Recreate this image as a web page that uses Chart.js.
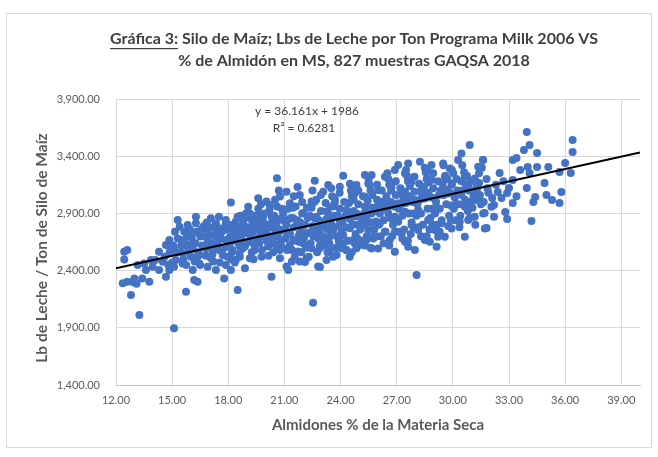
<!DOCTYPE html>
<html lang="es">
<head>
<meta charset="UTF-8">
<title>Gráfica 3: Silo de Maíz</title>
<script src="https://cdn.jsdelivr.net/npm/chart.js"></script>
<style>
  html, body { margin: 0; padding: 0; background: #fff; }
  canvas { display: block; }
</style>
</head>
<body>
<canvas id="grafica" width="658" height="457"></canvas>
<script>
// textos
const tituloSub = 'Gráfica 3:';
const tituloResto = ' Silo de Maíz; Lbs de Leche por Ton Programa Milk 2006 VS';
const tituloLinea2 = '% de Almidón en MS, 827 muestras GAQSA 2018';
const ecuacion = 'y = 36.161x + 1986';
const r2Texto = 'R² = 0.6281';
const tituloX = 'Almidones % de la Materia Seca';
const tituloY = 'Lb de Leche / Ton de Silo de Maíz';

// ejes
const xTicks = [12, 15, 18, 21, 24, 27, 30, 33, 36, 39];
const yTicks = [1400, 1900, 2400, 2900, 3400, 3900];

// linea de tendencia (extremos)
const tendencia = [[12, 2420], [40, 3432]];

// muestras: [almidon %, lb leche / ton]
const muestras = [
  // cola izquierda
  [12.44,2565],[12.44,2498],[12.6,2580],[12.36,2289],[12.6,2303],[12.98,2332],[12.8,2187],[13.25,2012],
  [15.1,1895],[13.78,2303],[13.16,2449],[13.6,2405],[13.96,2434],[14.3,2565],[14.67,2624],[14.85,2667],
  [13.87,2492],[13.5,2463],[13.4,2330],[12.9,2300],[13.1,2285],
  // 14 - 19
  [15.3,2842],[15.4,2784],[16.27,2871],[16.27,2813],[17.07,2857],[17.5,2871],[18.14,2996],[15.74,2216],
  [16.18,2318],[16.36,2303],[17.78,2332],[18.5,2230],[17.34,2405],[18.14,2405],[16.9,2434],[16.1,2405],
  [14.67,2347],[14.85,2405],[14.3,2405],[14.5,2478],[14.1,2492],[15.2,2492],[15.56,2551],[15.83,2609],
  [16.1,2653],[16.5,2697],[17.0,2711],[17.34,2740],[17.7,2769],[18.14,2798],[18.6,2784],[18.3,2740],
  [17.87,2667],[17.34,2624],[16.8,2595],[16.45,2536],[16.0,2522],[15.56,2463],[15.1,2434],[16.45,2463],
  [17.07,2507],[17.7,2536],[18.23,2580],[18.6,2624],[18.4,2492],[17.87,2449],[15.47,2667],[15.1,2609],
  [14.85,2551],[15.65,2740],[15.83,2798],[16.8,2769],[17.34,2813],[17.87,2842],[18.5,2871],
  // 18.6 - 25.5
  [20.6,3207],[22.62,3186],[23.34,3149],[24.14,3230],[25.3,3236],[22.53,2120],[20.31,2347],[21.11,2435],
  [22.8,2435],[22.18,2508],[18.89,2420],[19.78,2522],[21.73,2566],[23.42,2581],[24.31,2581],[25.03,2624],
  [19.15,2508],[20.76,2581],[22.45,2595],[23.78,2537],[24.67,2668],[25.38,2668],[20.4,2639],[19.5,2668],
  [21.47,2668],[23.07,2668],[18.98,2726],[20.04,2741],[21.11,2741],[22.18,2726],[23.6,2755],[24.49,2770],
  [25.2,2799],[19.33,2799],[20.58,2813],[21.65,2799],[22.89,2813],[23.96,2843],[18.8,2843],[19.69,2886],
  [20.93,2901],[21.99,2901],[23.25,2916],[24.31,2930],[25.3,2959],[19.06,2959],[20.22,2974],[21.29,2988],
  [22.45,3003],[23.69,3032],[24.76,3076],[19.6,3032],[20.76,3047],[21.82,3061],[23.07,3090],[23.96,3134],
  [24.85,3149],[21.11,3090],[20.04,3003],[18.62,2610],[19.42,2581],[20.13,2610],[21.29,2624],[22.0,2639],
  [22.89,2595],[23.96,2639],[24.85,2595],[23.42,2697],[24.14,2712],[20.58,2697],[19.69,2697],[22.89,2712],
  [21.82,2726],[22.62,2857],[23.51,2872],[20.31,2872],[21.47,2857],[24.76,2872],[25.38,2857],[20.76,2508],
  [21.82,2479],[23.25,2493],[24.49,2522],[18.89,2610],[18.62,2522],[21.2,2406],[24.05,2595],[22.9,2431],
  [22.1,2475],
  // 25.3 - 32
  [30.9,3497],[30.46,3424],[28.24,3352],[27.08,3323],[31.62,3366],[28.06,2361],[26.9,2565],[25.66,2594],
  [26.01,2594],[27.97,2580],[28.77,2653],[29.57,2696],[30.37,2827],[31.71,2769],[31.62,2900],[31.17,2871],
  [28.86,3323],[29.84,3293],[30.02,3250],[29.57,3221],[30.64,3221],[31.17,3206],[27.44,3250],[26.37,3221],
  [25.66,3235],[26.72,3133],[27.79,3177],[28.86,3191],[29.93,3162],[30.82,3148],[28.32,3104],[27.26,3075],
  [26.01,3104],[25.3,3046],[26.19,3002],[27.08,2988],[27.97,3017],[29.04,3031],[29.75,3075],[30.46,3060],
  [31.17,3017],[30.1,2973],[29.21,2944],[28.15,2929],[27.44,2915],[26.55,2900],[25.66,2900],[25.3,2842],
  [26.1,2813],[27.08,2827],[27.79,2798],[28.68,2842],[29.39,2813],[26.37,2740],[27.26,2725],[28.15,2754],
  [29.04,2754],[29.93,2769],[30.82,2842],[30.64,2958],[25.74,2696],[26.63,2667],[27.44,2653],[28.5,2667],
  [29.21,2696],[25.48,2754],[26.01,2973],[26.9,3279],[27.61,3337],[25.48,3162],[31.35,3308],[31.17,3104],
  [29.48,3337],[30.28,3366],[28.68,3264],[32.06,2958],[29.13,2609],[27.61,2609],[30.64,2696],
  // cola derecha
  [33.95,3611],[36.4,3541],[36.4,3437],[34.1,3498],[33.8,3454],[34.5,3428],[33.2,3367],[33.4,3384],
  [31.6,3367],[34.0,3306],[34.5,3306],[35.1,3306],[36.0,3340],[35.7,3262],[36.3,3253],[32.5,3253],
  [34.1,3253],[34.9,3165],[33.95,3122],[33.2,3192],[34.4,3043],[34.3,2999],[35.0,3061],[35.3,3017],
  [35.7,2991],[35.8,3087],[34.2,2833],[31.8,2772],[31.7,2903],[32.2,2973],[32.8,2912],[33.2,2991],
  [32.9,3078],[32.4,3087],[32.1,3034],[32.6,3034],[33.0,3122],[31.4,3017],[31.4,3165],
  // nucleo denso
  [14.6,2520],[14.9,2590],[15.2,2560],[15.0,2470],[15.5,2620],[15.8,2700],[15.3,2680],[15.9,2560],[14.8,2450],[15.6,2500],
  [16.1,2590],[16.3,2740],[16.6,2620],[16.9,2660],[16.4,2560],[16.7,2790],[16.2,2480],[16.8,2530],[16.5,2450],
  [17.1,2640],[17.3,2700],[17.5,2580],[17.6,2680],[17.9,2760],[17.2,2480],[17.8,2600],[17.4,2780],[17.95,2520],
  [18.1,2700],[18.3,2660],[18.5,2760],[18.7,2700],[18.9,2650],[18.2,2560],[18.8,2800],[18.4,2830],[18.6,2550],[18.95,2900],[18.35,2470],
  [19.1,2650],[19.3,2730],[19.5,2760],[19.7,2800],[19.9,2700],[19.2,2850],[19.4,2620],[19.6,2940],[19.8,2580],[19.85,2850],[19.25,2560],[19.55,2830],
  [20.1,2800],[20.3,2700],[20.5,2760],[20.7,2850],[20.9,2750],[20.2,2930],[20.4,2560],[20.6,2960],[20.8,2650],[20.95,2840],[20.35,2830],[20.65,2700],
  [21.1,2800],[21.3,2720],[21.5,2780],[21.7,2840],[21.9,2760],[21.2,2940],[21.4,2580],[21.6,2960],[21.8,2650],[21.95,2900],[21.35,2860],[21.75,2700],[21.55,2520],
  [22.1,2800],[22.3,2730],[22.5,2790],[22.7,2870],[22.9,2760],[22.2,2950],[22.4,2640],[22.6,3000],[22.8,2680],[22.95,2920],[22.35,2880],[22.75,2560],[22.55,2700],
  [23.1,2800],[23.3,2760],[23.5,2810],[23.7,2880],[23.9,2790],[23.2,2990],[23.4,2640],[23.6,2960],[23.8,2700],[23.95,2940],[23.35,2900],[23.75,2600],[23.55,3050],
  [24.1,2830],[24.3,2780],[24.5,2850],[24.7,2920],[24.9,2800],[24.2,3000],[24.4,2660],[24.6,3050],[24.8,2720],[24.95,2980],[24.35,2900],[24.75,2640],[24.55,3100],
  [25.1,2860],[25.3,2800],[25.5,2900],[25.7,2950],[25.9,2830],[25.2,3050],[25.4,2700],[25.6,3100],[25.8,2760],[25.95,3020],[25.35,2960],[25.75,2680],[25.55,3150],
  [26.1,2900],[26.3,2840],[26.5,2950],[26.7,3000],[26.9,2870],[26.2,3100],[26.4,2740],[26.6,3150],[26.8,2800],[26.95,3060],[26.35,3000],[26.75,2700],[26.55,3200],
  [27.1,2940],[27.3,2880],[27.5,2990],[27.7,3050],[27.9,2900],[27.2,3120],[27.4,2760],[27.6,3180],[27.8,2820],[27.95,3090],[27.35,3040],[27.75,2720],[27.55,3230],
  [28.1,2980],[28.3,2900],[28.5,3030],[28.7,3080],[28.9,2940],[28.2,3160],[28.4,2800],[28.6,3200],[28.8,2860],[28.95,3120],[28.35,3070],[28.75,2760],[28.55,3260],
  [29.1,3000],[29.3,2940],[29.5,3060],[29.7,3110],[29.9,2970],[29.2,3180],[29.4,2840],[29.6,3230],[29.8,2880],[29.95,3150],[29.35,3100],[29.75,2790],
  [30.1,3040],[30.3,2980],[30.5,3100],[30.7,3150],[30.9,3000],[30.2,3200],[30.4,2880],[30.6,3260],[30.8,2920],[30.95,3180],
  [31.1,3050],[31.3,3120],[31.5,2980],[31.8,3200],[31.9,3080],[31.4,3250],
  // nucleo denso, segunda pasada
  [15.05,2620],[15.45,2560],[15.7,2640],[15.95,2760],[15.15,2740],[15.75,2450],
  [16.05,2700],[16.25,2640],[16.55,2760],[16.75,2700],[16.95,2600],[16.35,2520],[16.85,2820],
  [17.05,2780],[17.25,2590],[17.45,2650],[17.65,2740],[17.85,2800],[17.15,2540],[17.55,2470],[17.95,2650],
  [18.05,2620],[18.25,2780],[18.45,2700],[18.65,2880],[18.85,2740],[18.15,2500],[18.55,2640],[18.75,2590],[18.95,2780],
  [19.05,2780],[19.2,2700],[19.45,2880],[19.65,2640],[19.8,2760],[19.95,2900],[19.35,2500],[19.75,2980],[19.15,2900],
  [20.05,2660],[20.25,2780],[20.45,2880],[20.55,2620],[20.75,2760],[20.85,2940],[20.15,2530],[20.5,3020],[20.9,2600],[20.7,3100],
  [21.05,2680],[21.25,2850],[21.45,2950],[21.6,2660],[21.85,2820],[21.95,3000],[21.15,2580],[21.5,3050],[21.9,2560],[21.7,3130],[21.4,2480],
  [22.05,2690],[22.25,2860],[22.45,2950],[22.65,2760],[22.85,2840],[22.95,3060],[22.15,2600],[22.5,3100],[22.9,2620],[22.7,3020],[22.3,2520],
  [23.05,2700],[23.25,2850],[23.45,2960],[23.65,2780],[23.85,2880],[23.95,3080],[23.15,2620],[23.5,3120],[23.9,2660],[23.7,3000],[23.3,2560],[23.6,2520],
  [24.05,2740],[24.25,2880],[24.45,2990],[24.65,2800],[24.85,2900],[24.95,3100],[24.15,2640],[24.5,3160],[24.9,2680],[24.7,3020],[24.3,2580],[24.6,2560],
  [25.05,2760],[25.25,2900],[25.45,3010],[25.65,2820],[25.85,2920],[25.95,3150],[25.15,2660],[25.5,3200],[25.9,2700],[25.7,3060],[25.3,2620],[25.6,2600],
  [26.05,2800],[26.25,2940],[26.45,3050],[26.65,2860],[26.85,2960],[26.95,3180],[26.15,2700],[26.5,3250],[26.9,2740],[26.7,3100],[26.3,2640],[26.6,2620],
  [27.05,2840],[27.25,2980],[27.45,3090],[27.65,2900],[27.85,3000],[27.95,3220],[27.15,2740],[27.5,3280],[27.9,2780],[27.7,3140],[27.3,2680],[27.6,2660],
  [28.05,2880],[28.25,3020],[28.45,3130],[28.65,2940],[28.85,3040],[28.95,3250],[28.15,2780],[28.5,3300],[28.9,2800],[28.7,3170],[28.3,2700],[28.6,2700],
  [29.05,2900],[29.25,3060],[29.45,3160],[29.65,2980],[29.85,3080],[29.95,3280],[29.15,2800],[29.5,3320],[29.9,2840],[29.7,3200],[29.3,2740],
  [30.05,2940],[30.25,3100],[30.45,3180],[30.65,3020],[30.85,3100],[30.15,2840],[30.5,3320],[30.9,2860],[30.75,3230],[30.35,2780],
  [31.05,2950],[31.25,3160],[31.45,3060],[31.65,3000],[31.85,3120],[31.2,2800],[31.55,3300],
  [32.3,3150],[32.7,3180],[32.9,2850],[33.4,3050],[33.6,3280],[32.2,2870]
];

const gris = '#595959';
const fuente = 'Lato, "Open Sans", sans-serif';

const textos = {
  id: 'textos',
  beforeDraw(chart) {
    const c = chart.ctx;
    c.save();
    c.fillStyle = '#fff';
    c.fillRect(0, 0, chart.width, chart.height);
    c.strokeStyle = '#D9D9D9';
    c.lineWidth = 1;
    c.strokeRect(6.5, 13.5, 645, 434);
    c.restore();
  },
  afterDraw(chart) {
    const c = chart.ctx;
    c.save();
    c.fillStyle = '#404040';
    c.textBaseline = 'middle';

    // titulo, primera parte subrayada
    c.font = 'bold 16px ' + fuente;
    const w1 = c.measureText(tituloSub).width;
    const w2 = c.measureText(tituloResto).width;
    const x0 = 354 - (w1 + w2) / 2;
    c.textAlign = 'left';
    c.fillText(tituloSub, x0, 39);
    c.fillText(tituloResto, x0 + w1, 39);
    c.fillRect(x0, 48, w1, 1.2);
    c.textAlign = 'center';
    c.fillText(tituloLinea2, 354, 61);

    // ecuacion
    c.font = '12px ' + fuente;
    c.fillText(ecuacion, 307, 111);
    c.fillText(r2Texto, 304, 128);

    // titulos de ejes
    c.fillStyle = gris;
    c.font = 'bold 15px ' + fuente;
    c.fillText(tituloX, 378, 425);
    c.translate(42, 248);
    c.rotate(-Math.PI / 2);
    c.font = 'bold 15.5px ' + fuente;
    c.fillText(tituloY, 0, 0);
    c.restore();
  }
};

new Chart(document.getElementById('grafica'), {
  type: 'scatter',
  data: {
    datasets: [{
      type: 'line',
      data: tendencia.map(p => ({ x: p[0], y: p[1] })),
      borderColor: '#000',
      borderWidth: 2,
      pointRadius: 0,
      fill: false
    }, {
      data: muestras.map(p => ({ x: p[0], y: p[1] })),
      backgroundColor: '#4472C4',
      borderColor: '#4472C4',
      borderWidth: 0,
      pointRadius: 4
    }]
  },
  options: {
    responsive: false,
    devicePixelRatio: 1,
    animation: false,
    layout: { padding: { top: 99, right: 18, left: 0, bottom: 0 } },
    plugins: { legend: { display: false }, tooltip: { enabled: false } },
    scales: {
      x: {
        type: 'linear',
        min: 12,
        max: 40,
        afterBuildTicks: s => { s.ticks = xTicks.map(v => ({ value: v })); },
        afterFit: s => { s.height = 72; },
        grid: { color: '#D9D9D9', drawTicks: false },
        border: { color: '#BFBFBF' },
        ticks: {
          padding: 9,
          color: gris,
          font: { family: fuente, size: 11 },
          callback: v => v.toFixed(2)
        }
      },
      y: {
        min: 1400,
        max: 3900,
        afterBuildTicks: s => { s.ticks = yTicks.map(v => ({ value: v })); },
        afterFit: s => { s.width = 116; },
        grid: { color: '#D9D9D9', drawTicks: false },
        border: { display: false },
        ticks: {
          padding: 16,
          color: gris,
          font: { family: fuente, size: 11 },
          callback: v => v.toLocaleString('en-US', { minimumFractionDigits: 2, maximumFractionDigits: 2 })
        }
      }
    }
  },
  plugins: [textos]
});
</script>
</body>
</html>
